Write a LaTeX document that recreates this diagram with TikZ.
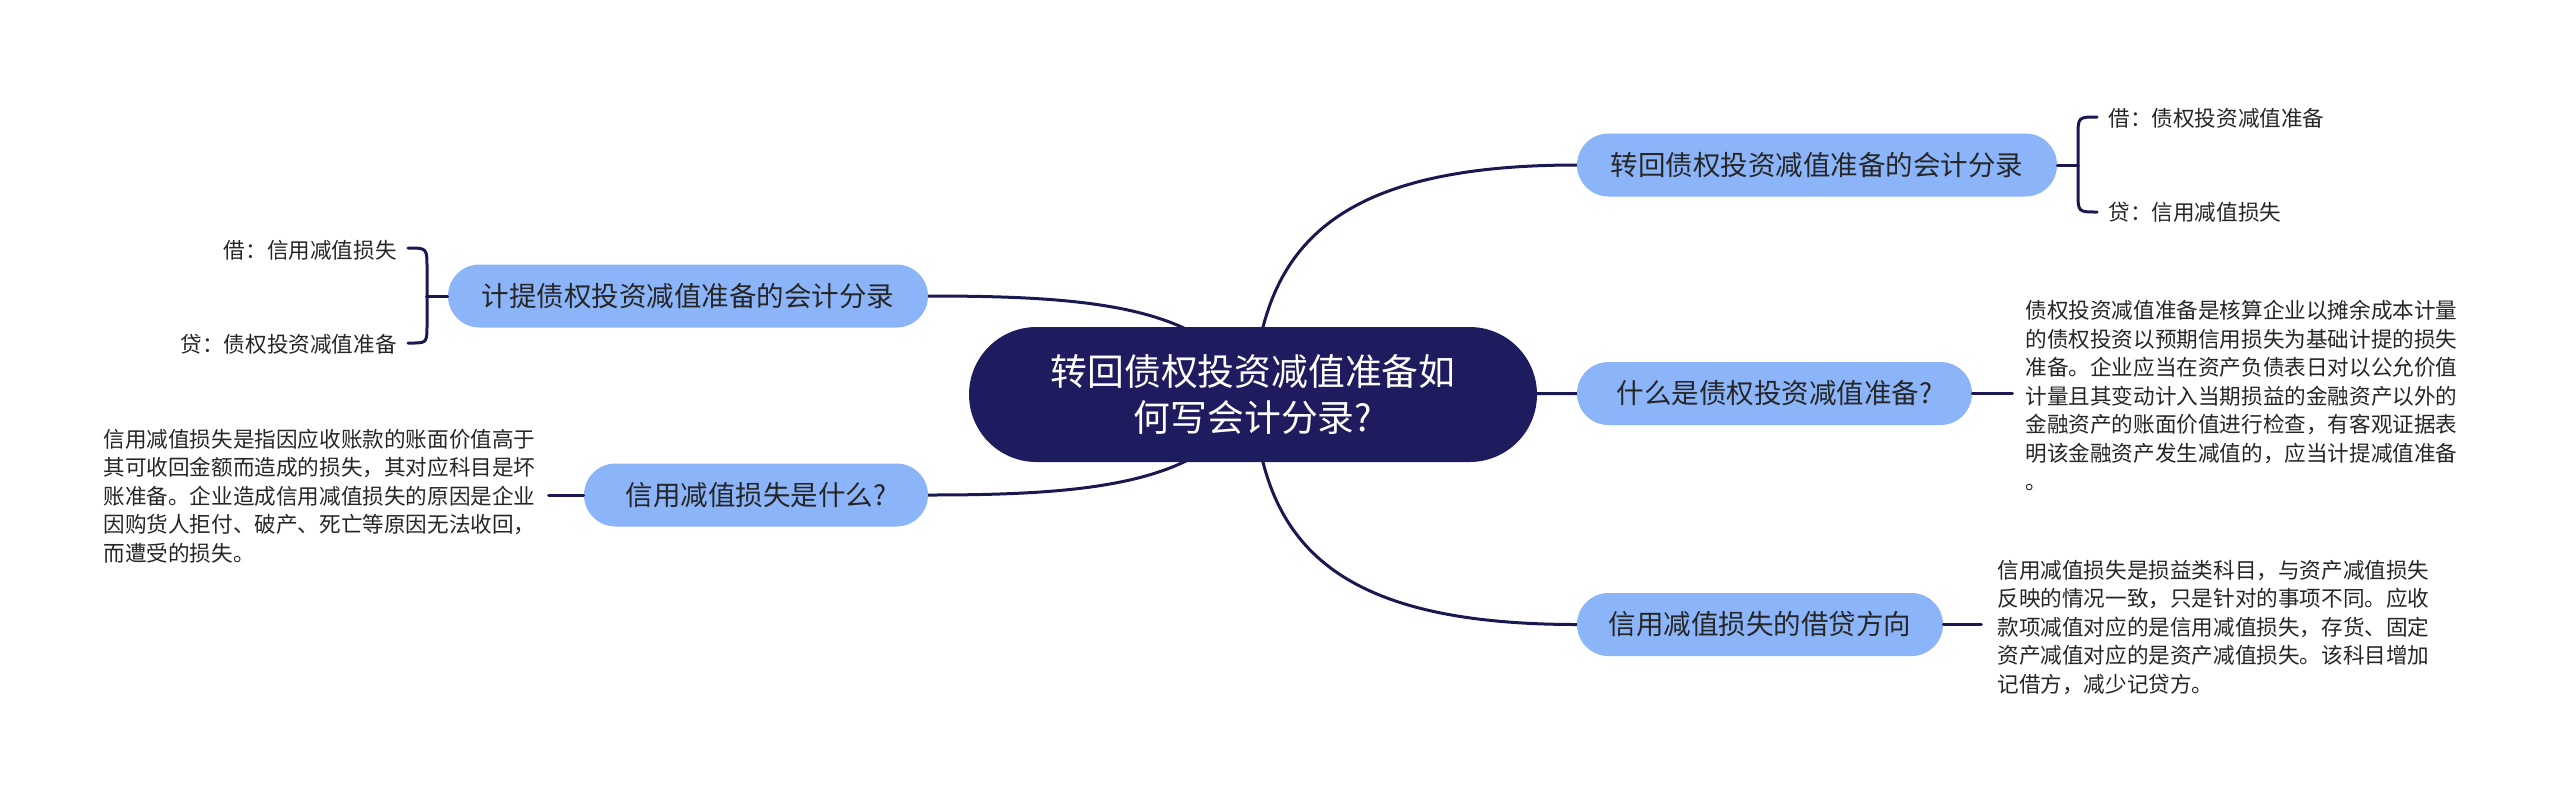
\documentclass[tikz,border=0pt]{standalone}
\usepackage{fontspec}
\newfontfamily\cjk{Noto Sans CJK SC}
\usetikzlibrary{backgrounds,calc}
\definecolor{rootc}{HTML}{1E1B5E}
\definecolor{subc}{HTML}{8CB4F8}
\definecolor{linec}{HTML}{1A1850}
\definecolor{txtc}{HTML}{262626}
\begin{document}
\begin{tikzpicture}[x=0.5pt,y=-0.5pt,
  conn/.style={draw=linec,line width=1.5pt,line cap=round},
  rootbox/.style={fill=rootc,rounded corners=33.75pt,minimum height=67.5pt,minimum width=284pt,inner sep=0pt,align=center,text=white,font=\cjk\fontsize{18.4}{23}\selectfont},
  subbox/.style={fill=subc,rounded corners=15.75pt,minimum height=31.5pt,inner sep=0pt,text=txtc,font=\cjk\fontsize{13.75}{16}\selectfont},
  leaf/.style={inner sep=0pt,text=txtc,font=\cjk\fontsize{10.8}{13}\selectfont},
  para/.style={inner sep=0pt,text=txtc,align=left,font=\cjk\fontsize{10.8}{14.25}\selectfont}]
\useasboundingbox (0,0) rectangle (2560,799);

% nodes
\node[rootbox] (root) at (1253,394.5) {转回债权投资减值准备如\\何写会计分录?};
\node[subbox,minimum width=240pt] (n1) at (1817,165) {转回债权投资减值准备的会计分录};
\node[subbox,minimum width=197.5pt] (n2) at (1774.5,393.5) {什么是债权投资减值准备?};
\node[subbox,minimum width=183pt] (n3) at (1760,624.5) {信用减值损失的借贷方向};
\node[subbox,minimum width=240pt] (n4) at (688,296) {计提债权投资减值准备的会计分录};
\node[subbox,minimum width=172pt] (n5) at (756,495) {信用减值损失是什么?};

\node[leaf,anchor=west] (r1a) at (2108,118) {借：债权投资减值准备};
\node[leaf,anchor=west] (r1b) at (2108,212) {贷：信用减值损失};
\node[leaf,anchor=east] (l4a) at (397,250) {借：信用减值损失};
\node[leaf,anchor=east] (l4b) at (397,344) {贷：债权投资减值准备};

\node[para,anchor=west] (p2) at (2025,395.5) {债权投资减值准备是核算企业以摊余成本计量\\的债权投资以预期信用损失为基础计提的损失\\准备。企业应当在资产负债表日对以公允价值\\计量且其变动计入当期损益的金融资产以外的\\金融资产的账面价值进行检查，有客观证据表\\明该金融资产发生减值的，应当计提减值准备\\。};
\node[para,anchor=west] (p3) at (1997,627.5) {信用减值损失是损益类科目，与资产减值损失\\反映的情况一致，只是针对的事项不同。应收\\款项减值对应的是信用减值损失，存货、固定\\资产减值对应的是资产减值损失。该科目增加\\记借方，减少记贷方。};
\node[para,anchor=west] (p5) at (103,496) {信用减值损失是指因应收账款的账面价值高于\\其可收回金额而造成的损失，其对应科目是坏\\账准备。企业造成信用减值损失的原因是企业\\因购货人拒付、破产、死亡等原因无法收回，\\而遭受的损失。};

% connectors
\begin{pgfonlayer}{background}
\fill[white] (0,0) rectangle (2560,799);
\draw[conn] (root.center) .. controls +(9,-144.5) and +(-247,0) .. (n1.west);
\draw[conn] (root.center) .. controls +(9,145.5) and +(-247,0) .. (n3.west);
\draw[conn] (root.center) -- (n2.west);
\draw[conn] (n4.east) .. controls +(165,0) and +(-40,-88) .. (root.center);
\draw[conn] (n5.east) .. controls +(165,0) and +(-40,89) .. (root.center);
\end{pgfonlayer}

% brackets and stubs
\coordinate (b1) at ($(n1.east)+(21,0)$);
\draw[conn] (n1.east) -- (b1);
\draw[conn] ($(r1a.west)+(-11,-1)$) .. controls +(-19,0) and +(0,-20) .. ($(r1a.west)+(-30,19)$) -- ($(r1b.west)+(-30,-20)$) .. controls +(0,20) and +(-19,0) .. ($(r1b.west)+(-11,0)$);

\coordinate (b4) at ($(n4.west)+(-21,0)$);
\draw[conn] (n4.west) -- (b4);
\draw[conn] ($(l4a.east)+(11,-2)$) .. controls +(19,0) and +(0,-20) .. ($(l4a.east)+(30,18)$) -- ($(l4b.east)+(30,-20)$) .. controls +(0,20) and +(19,0) .. ($(l4b.east)+(11,-1)$);

\coordinate (s2) at ($(n2.east)+(40,0)$);
\draw[conn] (n2.east) -- (s2);
\coordinate (s3) at ($(n3.east)+(38,0)$);
\draw[conn] (n3.east) -- (s3);
\coordinate (s5) at ($(n5.west)+(-35,0)$);
\draw[conn] (n5.west) -- (s5);
\end{tikzpicture}
\end{document}
